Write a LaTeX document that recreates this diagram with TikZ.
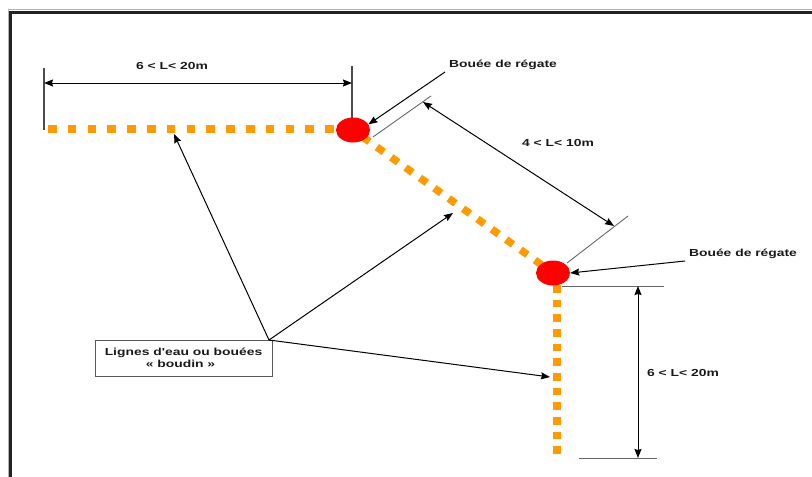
\documentclass[tikz,border=0pt]{standalone}
\usepackage{fontspec}
\setmainfont{Liberation Sans}
\usetikzlibrary{shapes.geometric,arrows.meta}
\definecolor{ropecol}{RGB}{255,155,0}
\definecolor{framecol}{RGB}{34,34,34}
\newcommand{\wl}[1]{\scalebox{1.36}[1]{#1}}
\begin{document}
\begin{tikzpicture}[x=1pt,y=-1pt,
  lab/.style={font=\bfseries\fontsize{10.2}{11}\selectfont, inner sep=0pt, text=black!90, anchor=base},
  buoy/.style={ellipse, fill=red, minimum width=34pt, minimum height=25pt, inner sep=0pt},
  ptr/.style={-{Stealth[length=9pt,width=7pt,inset=1pt]}, line width=1pt, black},
  dimarrow/.style={{Stealth[length=9pt,width=7pt,inset=1pt]}-{Stealth[length=9pt,width=7pt,inset=1pt]}, line width=1pt, black},
  ext/.style={line width=0.9pt, black!60},
  rope/.style={line width=7.5pt, draw=ropecol}]
\useasboundingbox (0,0) rectangle (812,477);
% frame
\draw[black!30, line width=0.8pt] (8.2,480) -- (8.2,9.8) -- (815,9.8);
\draw[framecol, line width=3pt] (10,480) -- (10,12) -- (815,12);
% buoy positions
\coordinate (c1) at (353,130);
\coordinate (c2) at (553,273);
\coordinate (hstart) at (48,129);
\coordinate (hend) at (353,129);
\coordinate (vstart) at (557,285);
\coordinate (vend) at (557,456);
% ropes
\draw[rope, dash pattern=on 8.5pt off 11.3pt] (hstart) -- (hend);
\draw[rope, dash pattern=on 8.5pt off 9.16pt, dash phase=6pt] (c1) -- (c2);
\draw[rope, dash pattern=on 7.5pt off 7.17pt] (vstart) -- (vend);
% buoys
\node[buoy] (b1) at (c1) {};
\node[buoy] (b2) at (c2) {};
% top dimension
\coordinate (t1a) at (44,68); \coordinate (t1b) at (44,130);
\coordinate (t2a) at (352,66); \coordinate (t2b) at (352,118);
\draw[line width=1.1pt, black!70] (t1a) -- (t1b);
\draw[line width=1.1pt, black!70] (t2a) -- (t2b);
\coordinate (d1a) at (44,83); \coordinate (d1b) at (352,83);
\draw[dimarrow] (d1a) -- (d1b);
\node[lab] (lt) at (172,69) {\wl{6 < L< 20m}};
% diagonal dimension
\coordinate (e1a) at (373,137); \coordinate (e1b) at (431,96);
\coordinate (e2a) at (567,263); \coordinate (e2b) at (628,216);
\draw[ext] (e1a) -- (e1b);
\draw[ext] (e2a) -- (e2b);
\coordinate (d2a) at (423,102); \coordinate (d2b) at (614,226);
\draw[dimarrow] (d2a) -- (d2b);
\node[lab] (ld) at (558,146.5) {\wl{4 < L< 10m}};
% vertical dimension
\coordinate (f1a) at (562,286); \coordinate (f1b) at (664,286);
\coordinate (f2a) at (579,458); \coordinate (f2b) at (657,458);
\draw[ext] (f1a) -- (f1b);
\draw[ext] (f2a) -- (f2b);
\coordinate (d3a) at (638,286); \coordinate (d3b) at (638,458);
\draw[dimarrow] (d3a) -- (d3b);
\node[lab] (lv) at (683,376) {\wl{6 < L< 20m}};
% buoy labels
\node[lab] (bl1) at (503,67) {\wl{Bouée de régate}};
\node[lab] (bl2) at (743,256.5) {\wl{Bouée de régate}};
\coordinate (p1) at (445,72);
\coordinate (p2) at (685,261);
\draw[ptr] (p1) -- (b1.20);
\draw[ptr] (p2) -- (b2.east);
% box
\node[draw=black!65, line width=0.9pt, minimum width=177pt, minimum height=36pt, inner sep=0pt] (box) at (183.5,358) {};
\node[lab] (bt1) at (183.5,355.5) {\wl{Lignes d\textquotesingle eau ou bouées}};
\node[lab] (bt2) at (180.5,367) {\wl{« boudin »}};
\coordinate (hub) at (269,340);
\coordinate (a1) at (174,134);
\coordinate (a2) at (453,213);
\coordinate (a3) at (550,377);
\draw[ptr] (hub) -- (a1);
\draw[ptr] (hub) -- (a2);
\draw[ptr] (hub) -- (a3);
\end{tikzpicture}
\end{document}
